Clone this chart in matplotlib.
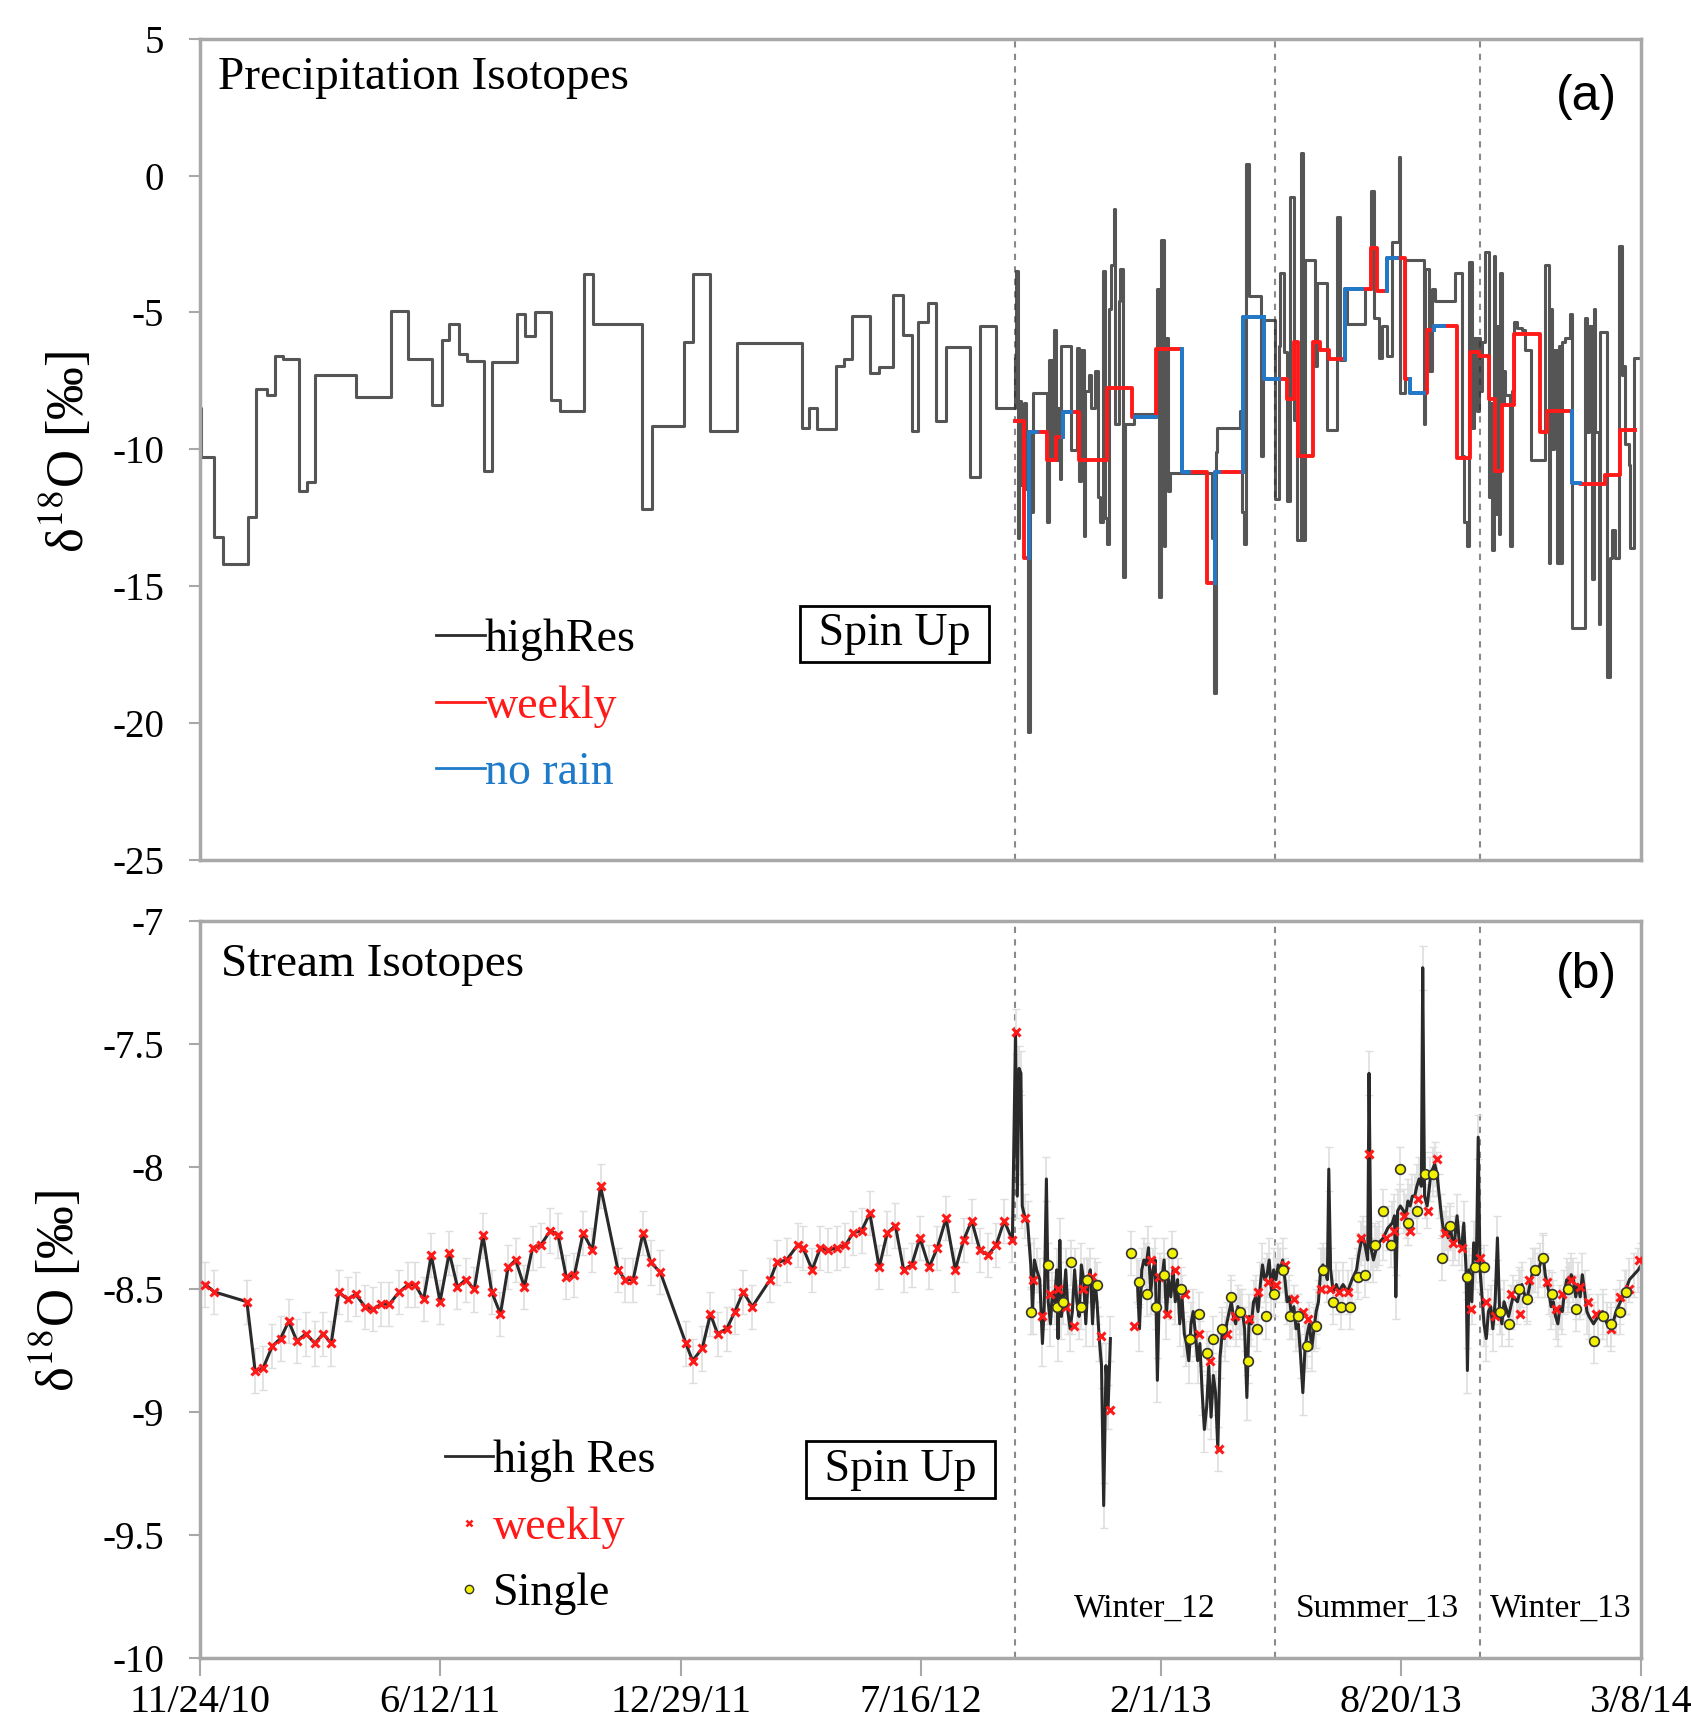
import matplotlib
matplotlib.use("Agg")
import matplotlib.pyplot as plt
from matplotlib.lines import Line2D
from matplotlib.ticker import FormatStrFormatter

plt.rcParams['font.family'] = ['Liberation Serif', 'DejaVu Serif']
plt.rcParams['mathtext.fontset'] = 'stix'
plt.rcParams['axes.unicode_minus'] = False

# x axis is days since 11/24/10
tick_days = [0, 200, 400, 600, 800, 1000, 1200]
tick_labels = ['11/24/10', '6/12/11', '12/29/11', '7/16/12', '2/1/13', '8/20/13', '3/8/14']
period_days = [678.5, 894.6, 1065.9, 1200]
season_names = ['Winter_12', 'Summer_13', 'Winter_13']

# (a) precipitation, high resolution (step starts)
precip_hr_days = [0, 0.8, 11.7, 19.4, 39.7, 46.5, 55.5, 62.3, 69.1, 82.6, 89.4, 96.1, 130.0,
                  159.3, 172.9, 193.2, 201.3, 207.6, 215.8, 222.5, 236.1, 242.8, 264.0, 270.8,
                  279.0, 292.5, 299.3, 319.6, 327.2, 368.3, 376.0, 403.1, 410.7, 424.3, 446.9,
                  501.5, 506.9, 513.6, 529.4, 536.2, 543.0, 557.9, 565.6, 576.8, 585.0, 592.6,
                  598.0, 606.2, 612.9, 621.1, 641.4, 649.1, 662.6,
                  678.2, 679.2, 680.9, 682.0, 683.7, 685.6, 687.6, 689.3, 690.9, 692.0, 693.1,
                  705.1, 707.0, 709.2, 711.2, 712.6, 714.2, 715.6, 717.0, 725.3, 730.1, 732.0,
                  733.7, 735.6, 737.0, 739.8, 742.0, 745.3, 747.6, 749.5, 751.5, 753.1, 755.1,
                  757.0, 758.7, 760.6, 762.0, 764.8, 766.2, 768.1, 769.8, 777.3, 796.7, 798.1,
                  800.4, 802.3, 803.7, 805.6, 807.9, 842.6, 844.0, 845.4, 846.8,
                  866.1, 867.5, 868.9, 870.8, 873.0, 883.6, 884.7, 895.2, 898.0, 899.4, 902.2,
                  904.9, 907.7, 910.5, 913.3, 916.9, 918.0, 920.2, 928.5, 929.9, 938.2, 946.6,
                  949.4, 953.0, 954.9, 970.2, 974.9, 977.1, 981.3, 984.1, 988.3, 992.4, 998.0,
                  999.4, 1003.5, 1018.8, 1020.2, 1023.0, 1025.8, 1028.5,
                  1045.1, 1050.7, 1052.1, 1054.8, 1056.2, 1059.0, 1060.5, 1063.2, 1064.5,
                  1065.9, 1067.5, 1070.1, 1072.9, 1074.2, 1075.6, 1077.0, 1078.4, 1079.8,
                  1081.2, 1082.6, 1084.0, 1085.3, 1086.7, 1090.9, 1092.2, 1093.6, 1096.4,
                  1100.6, 1103.4, 1108.4, 1120.0, 1122.8, 1124.2, 1125.6, 1127.0, 1129.7,
                  1131.0, 1132.5, 1134.0, 1136.7, 1140.8, 1142.2, 1153.3, 1154.7, 1156.1,
                  1158.9, 1160.2, 1161.6, 1164.4, 1165.8, 1171.4, 1174.0, 1175.5, 1178.3,
                  1181.1, 1183.9, 1185.0, 1186.6, 1189.4, 1190.8, 1193.6]
precip_hr_vals = [-8.5, -10.27, -13.2, -14.2, -12.45, -7.8, -8.0, -6.57, -6.7, -11.5, -11.2, -7.3, -8.1,
                  -4.94, -6.7, -8.37, -6.0, -5.43, -6.5, -6.76, -10.8, -6.8, -5.04, -5.86,
                  -5.0, -8.18, -8.6, -3.6, -5.43, -12.16, -9.16, -6.08, -3.6, -9.31, -6.12,
                  -9.2, -8.5, -9.25, -6.96, -6.7, -5.14, -7.2, -7.0, -4.35, -5.82, -9.31,
                  -5.33, -4.65, -8.96, -6.27, -11.0, -5.5, -8.47,
                  -6.67, -3.47, -13.24, -8.24, -11.30, -8.32, -11.45, -20.32, -9.36, -12.27, -7.94,
                  -12.64, -6.75, -10.40, -5.63, -10.40, -8.47, -11.07, -6.23, -10.03, -6.30, -11.15,
                  -6.38, -13.16, -7.87, -7.27, -8.47, -7.12, -11.75, -12.64, -3.47, -12.49, -13.46,
                  -4.89, -3.25, -1.23, -9.06, -4.59, -3.40, -14.65, -9.06, -8.69, -4.14, -15.40,
                  -2.35, -13.53, -5.93, -11.52, -10.85, -13.24, -18.90, -10.10, -9.21,
                  -8.61, -12.27, -13.46, 0.41, -4.41, -10.25, -5.26, -11.82, -6.23, -3.54, -6.45,
                  -11.90, -0.79, -8.91, -13.31, 0.81, -13.31, -3.10, -6.97, -3.92, -9.28, -1.53,
                  -6.75, -4.14, -5.41, -4.14, -0.56, -5.19, -6.67, -5.49, -6.60, -2.43, 0.66,
                  -7.94, -3.10, -9.06, -3.40, -7.12, -4.14, -4.59,
                  -3.54, -10.25, -12.64, -13.53, -3.17, -9.21, -5.93, -8.61, -5.93,
                  -7.87, -6.08, -2.80, -11.75, -8.32, -13.68, -2.95, -12.34, -5.48,
                  -13.09, -3.54, -8.32, -7.12, -8.02, -13.53, -7.87, -5.33, -5.56,
                  -5.63, -6.38, -10.40, -3.25, -14.13, -4.89, -10.00, -6.38, -14.13,
                  -6.23, -14.13, -6.08, -5.93, -5.04, -16.52, -5.19, -9.36, -5.48,
                  -14.73, -4.89, -9.36, -16.37, -5.71, -18.30, -13.98, -12.94, -13.98,
                  -2.57, -7.27, -6.97, -9.81, -10.55, -13.61, -6.67]

# (a) weekly composite, steps flagged as no rain are blue
precip_wk_days = [678.5, 686.3, 690.0, 697.0, 704.9, 712.3, 718.6, 725.0, 731.7, 754.7, 775.5,
                  778.0, 795.6, 817.2, 823.0, 838.4, 845.1, 848.0, 868.5, 885.5, 898.0, 904.9,
                  910.8, 914.1, 926.3, 932.7, 939.6, 953.0, 967.0, 974.9, 979.9, 988.3, 996.6,
                  1003.5, 1007.7, 1018.8, 1021.6, 1027.1, 1036.0, 1046.5, 1057.6, 1064.6,
                  1072.9, 1078.4, 1084.0, 1093.6, 1115.9, 1121.4, 1142.2, 1149.1, 1170.0, 1182.5]
precip_wk_vals = [-8.97, -13.96, -9.36, -9.36, -10.40, -9.56, -8.62, -8.62, -10.40, -7.76, -8.82,
                  -8.82, -6.33, -10.83, -10.83, -14.89, -10.83, -10.83, -5.16, -7.42, -7.42, -8.17,
                  -6.08, -10.25, -6.08, -6.38, -6.68, -4.14, -4.14, -2.65, -4.22, -3.02, -3.02,
                  -7.42, -7.94, -7.94, -5.63, -5.48, -5.48, -10.33, -6.45, -6.60,
                  -8.17, -10.78, -8.39, -5.78, -9.36, -8.58, -11.22, -11.27, -10.93, -9.28]
precip_norain = [0, 0, 1, 0, 0, 0, 1, 0, 0, 0, 0,
                 1, 0, 1, 0, 0, 1, 0, 1, 1, 0, 0,
                 0, 0, 0, 0, 0, 1, 0, 0, 0, 1, 0,
                 0, 1, 0, 0, 1, 0, 0, 0, 0,
                 0, 0, 0, 0, 0, 0, 1, 0, 0, 0]
precip_wk_end = 1195.0

# (b) stream, weekly samples during spin up
stream_wk_spin_days = [4.5, 11.8, 39.0, 45.8, 52.5, 60.2, 67.0, 73.8, 80.6, 88.3, 95.6, 102.4,
                       109.2, 115.5, 122.8, 129.6, 137.3, 144.1, 150.8, 157.6, 165.8, 173.5,
                       178.9, 186.2, 192.5, 199.8, 207.5, 214.3, 221.1, 228.3, 235.6, 242.8,
                       250.1, 256.4, 262.7, 270.0, 276.8, 283.6, 291.7, 298.1, 304.9, 311.7,
                       318.9, 326.6, 333.4, 347.9, 353.8, 360.6, 368.7, 375.1, 383.2, 404.5,
                       410.0, 418.1, 424.9, 430.8, 438.5, 445.3, 452.1, 459.8, 474.7, 480.2,
                       488.3, 497.4, 501.9, 509.6, 516.4, 523.2, 530.0, 537.3, 543.6, 550.8,
                       557.6, 565.4, 572.1, 578.9, 585.7, 592.5, 599.3, 607.0, 613.8, 621.1,
                       628.8, 635.6, 642.4, 649.2, 655.9, 662.7, 669.5, 676.3]
stream_wk_spin_vals = [-8.48, -8.51, -8.55, -8.83, -8.82, -8.73, -8.70, -8.63, -8.71, -8.68, -8.72, -8.68,
                       -8.72, -8.51, -8.54, -8.52, -8.57, -8.58, -8.56, -8.56, -8.51, -8.48,
                       -8.48, -8.54, -8.36, -8.55, -8.35, -8.49, -8.46, -8.50, -8.28, -8.51,
                       -8.60, -8.41, -8.38, -8.49, -8.33, -8.32, -8.26, -8.28, -8.45, -8.44,
                       -8.27, -8.34, -8.08, -8.42, -8.46, -8.46, -8.27, -8.39, -8.43, -8.72,
                       -8.79, -8.74, -8.60, -8.68, -8.66, -8.59, -8.51, -8.57, -8.46, -8.39,
                       -8.38, -8.32, -8.33, -8.42, -8.33, -8.34, -8.33, -8.32, -8.27, -8.26,
                       -8.19, -8.41, -8.27, -8.24, -8.42, -8.40, -8.29, -8.41, -8.33, -8.21,
                       -8.42, -8.30, -8.22, -8.34, -8.36, -8.32, -8.22, -8.30]

# (b) high resolution after spin up (two pieces, gap in record)
stream_hr1_days = [678.9, 680.4, 681.9, 683.4, 684.5, 686.4, 689.0, 691.6, 693.1, 694.6, 696.5,
                   699.1, 701.3, 702.8, 704.6, 706.1, 708.0, 709.5, 711.4, 713.2, 714.3, 715.8,
                   717.0, 718.8, 720.7, 722.5, 724.4, 726.2, 728.1, 730.0, 731.8, 733.7, 735.6,
                   737.4, 739.3, 741.2, 743.0, 744.9, 746.7, 748.6, 750.5, 752.3, 754.2, 756.0, 757.9]
stream_hr1_vals = [-7.45, -8.12, -7.60, -7.62, -8.16, -8.20, -8.23, -8.40, -8.59, -8.38, -8.42,
                   -8.46, -8.72, -8.57, -8.05, -8.55, -8.64, -8.52, -8.55, -8.42, -8.70, -8.30,
                   -8.61, -8.55, -8.42, -8.59, -8.66, -8.59, -8.42, -8.55, -8.61, -8.40, -8.46,
                   -8.64, -8.46, -8.42, -8.64, -8.46, -8.55, -8.70, -8.81, -9.38, -8.81, -8.98, -8.70]
stream_hr2_days = [780.3, 782.1, 784.0, 785.8, 787.7, 789.6, 791.4, 793.3, 795.2, 797.0, 798.9,
                   800.7, 802.6, 804.5, 806.3, 808.2, 810.1, 811.9, 813.8, 815.6, 817.5, 819.4,
                   821.2, 823.1, 825.0, 826.8, 828.7, 830.5, 832.4, 834.3, 836.1, 838.0, 839.8,
                   841.7, 843.6, 845.4, 847.3, 849.2, 851.0, 852.9, 854.7, 858.5, 860.3, 862.2,
                   864.1, 865.9, 867.8, 869.6, 871.5, 873.4, 875.2, 877.1, 879.0, 880.8, 882.7,
                   884.5, 886.4, 888.3, 890.1, 892.0, 893.8, 895.7, 897.6, 899.4, 901.3, 903.2,
                   905.0, 906.9, 908.7, 910.6, 912.5, 914.3, 916.2, 918.1, 919.9, 921.8, 923.6,
                   925.5, 927.4, 929.2, 931.1, 932.9, 934.8, 936.7, 938.5, 939.7, 941.2, 943.4,
                   946.0, 947.9, 951.6, 955.3, 959.0, 962.8, 964.6, 966.5, 968.3, 970.2, 972.1,
                   973.2, 974.7, 976.9, 979.5, 981.4, 985.1, 988.8, 992.5, 994.4, 995.5, 997.0,
                   999.3, 1001.9, 1003.7, 1005.6, 1007.4, 1009.3, 1011.2, 1013.0, 1014.9, 1016.8,
                   1017.9, 1019.4, 1021.6, 1024.2, 1026.1, 1027.9, 1029.8, 1031.7, 1033.5, 1035.4,
                   1037.2, 1039.1, 1041.0, 1042.8, 1044.7, 1046.5, 1048.4, 1050.3, 1052.1, 1054.0,
                   1055.1, 1056.6, 1058.8, 1060.3, 1062.6, 1064.1, 1065.6, 1067.0, 1068.9, 1070.8,
                   1072.6, 1074.5, 1076.3, 1078.2, 1080.1, 1081.9, 1083.8, 1085.6, 1089.4, 1091.2,
                   1093.1, 1096.8, 1098.7, 1100.5, 1104.3, 1108.0, 1109.9, 1113.6, 1115.5, 1118.1,
                   1119.9, 1122.9, 1124.8, 1126.6, 1128.5, 1130.4, 1132.2, 1134.1, 1135.9, 1137.8,
                   1139.7, 1141.5, 1143.4, 1145.3, 1147.1, 1149.0, 1150.8, 1152.7, 1154.6, 1156.4,
                   1160.1, 1163.9, 1167.6, 1171.3, 1175.0, 1178.8, 1182.5, 1186.2, 1190.0, 1193.7,
                   1197.4, 1200.0]
stream_hr2_vals = [-8.46, -8.66, -8.42, -8.38, -8.40, -8.33, -8.51, -8.42, -8.38, -8.87, -8.44,
                   -8.46, -8.38, -8.61, -8.46, -8.53, -8.42, -8.55, -8.46, -8.64, -8.53, -8.68,
                   -8.72, -8.79, -8.64, -8.59, -8.68, -8.79, -8.72, -8.92, -9.07, -8.98, -8.81,
                   -9.02, -8.85, -8.92, -9.15, -8.77, -8.68, -8.70, -8.64, -8.55, -8.61, -8.64,
                   -8.57, -8.61, -8.59, -8.66, -8.94, -8.61, -8.64, -8.55, -8.53, -8.59, -8.48,
                   -8.40, -8.46, -8.44, -8.38, -8.51, -8.42, -8.46, -8.40, -8.42, -8.38, -8.46,
                   -8.55, -8.53, -8.61, -8.57, -8.66, -8.64, -8.77, -8.92, -8.74, -8.68, -8.64,
                   -8.74, -8.66, -8.59, -8.55, -8.42, -8.40, -8.42, -8.46, -8.01, -8.42, -8.51,
                   -8.48, -8.51, -8.48, -8.51, -8.46, -8.42, -8.36, -8.31, -8.29, -8.33, -8.38,
                   -7.62, -8.33, -8.38, -8.33, -8.31, -8.29, -8.25, -8.23, -8.20, -8.53, -8.18,
                   -8.16, -8.18, -8.20, -8.14, -8.16, -8.12, -8.12, -8.08, -8.05, -8.08,
                   -7.19, -8.12, -8.16, -8.05, -8.01, -7.99, -8.03, -8.12, -8.20, -8.27,
                   -8.25, -8.29, -8.25, -8.31, -8.29, -8.20, -8.31, -8.33, -8.23, -8.42,
                   -8.83, -8.42, -8.55, -8.31, -8.38, -7.88, -8.42, -8.51, -8.64, -8.70,
                   -8.59, -8.57, -8.66, -8.55, -8.29, -8.59, -8.64, -8.55, -8.61, -8.57,
                   -8.53, -8.55, -8.51, -8.48, -8.55, -8.46, -8.42, -8.44, -8.40, -8.36,
                   -8.44, -8.51, -8.57, -8.55, -8.61, -8.64, -8.57, -8.59, -8.51, -8.46,
                   -8.48, -8.44, -8.46, -8.53, -8.48, -8.53, -8.44, -8.51, -8.59, -8.61,
                   -8.64, -8.61, -8.59, -8.64, -8.66, -8.59, -8.55, -8.51, -8.46, -8.44,
                   -8.42, -8.40]

# (b) weekly samples after spin up
stream_wk_days = [678.9, 686.4, 693.5, 701.3, 707.6, 714.0, 720.7, 727.4, 734.8, 742.3, 749.7,
                  757.2, 777.3, 791.4, 798.1, 805.2, 811.9, 819.7, 831.3, 840.6, 848.0, 854.7,
                  861.4, 873.4, 880.8, 889.0, 895.7, 903.2, 910.6, 918.1, 922.5, 933.0, 940.4,
                  947.9, 955.3, 966.5, 973.2, 987.0, 994.4, 1001.9, 1007.4, 1014.2, 1022.3,
                  1029.8, 1036.5, 1042.8, 1050.3, 1057.7, 1065.2, 1070.8, 1078.2, 1091.2,
                  1098.7, 1106.1, 1121.0, 1128.5, 1134.1, 1141.5, 1149.0, 1155.7, 1162.0,
                  1175.0, 1182.5, 1190.0, 1198.2]
stream_wk_vals = [-7.45, -8.21, -8.46, -8.61, -8.52, -8.50, -8.57, -8.65, -8.50, -8.45, -8.69,
                  -8.99, -8.65, -8.38, -8.45, -8.60, -8.42, -8.52, -8.68, -8.79, -9.15, -8.68,
                  -8.61, -8.62, -8.51, -8.47, -8.48, -8.40, -8.54, -8.59, -8.62, -8.50, -8.50,
                  -8.51, -8.51, -8.29, -7.95, -8.29, -8.26, -8.20, -8.26, -8.13, -8.18,
                  -7.97, -8.27, -8.31, -8.33, -8.58, -8.37, -8.55, -8.61, -8.52,
                  -8.60, -8.46, -8.47, -8.58, -8.52, -8.46, -8.49, -8.55, -8.60,
                  -8.66, -8.53, -8.50, -8.38]

# (b) single grab samples
stream_single_days = [691.6, 705.8, 713.2, 718.8, 725.1, 733.0, 738.5, 746.7, 774.7, 782.1, 788.5,
                      795.9, 802.6, 808.9, 816.8, 824.2, 831.7, 838.0, 843.6, 851.0, 858.5, 865.9,
                      872.6, 879.7, 887.5, 893.8, 901.3, 907.6, 914.3, 921.8, 929.2, 934.8, 943.4,
                      949.7, 957.2, 963.9, 970.2, 978.4, 985.1, 991.8, 999.3, 1005.6, 1013.0,
                      1019.4, 1026.8, 1034.3, 1041.0, 1055.1, 1061.4, 1068.9, 1081.9, 1090.1,
                      1098.0, 1104.3, 1111.0, 1118.4, 1125.9, 1138.5, 1145.3, 1160.1, 1167.6,
                      1175.0, 1182.5, 1186.9]
stream_single_vals = [-8.59, -8.40, -8.57, -8.55, -8.39, -8.57, -8.46, -8.48, -8.35, -8.47, -8.52,
                      -8.57, -8.44, -8.35, -8.50, -8.70, -8.60, -8.76, -8.70, -8.66, -8.53, -8.59,
                      -8.79, -8.66, -8.61, -8.52, -8.42, -8.61, -8.61, -8.73, -8.65, -8.42, -8.55,
                      -8.57, -8.57, -8.45, -8.44, -8.32, -8.18, -8.32, -8.01, -8.23, -8.18,
                      -8.03, -8.03, -8.37, -8.24, -8.45, -8.41, -8.41, -8.59, -8.64,
                      -8.50, -8.54, -8.42, -8.37, -8.52, -8.50, -8.58, -8.71, -8.61,
                      -8.64, -8.59, -8.51]
stream_err = 0.09

RED = '#ff1a1a'
BLUE = '#1f7bc9'
SPINE = '#a8a8a8'
DARK = '#2a2a2a'
YLABEL = 'δ$^{18}$O [‰]'

fig = plt.figure(figsize=(16.91, 17.30), dpi=100)
ax1 = fig.add_axes([0.1183, 0.5027, 0.8524, 0.4750])
ax2 = fig.add_axes([0.1183, 0.0417, 0.8524, 0.4259])

# ---------------- panel (a)
ax1.step(precip_hr_days + [1200], precip_hr_vals + [precip_hr_vals[-1]], where='post',
         color=DARK, lw=2.2, alpha=0.8, zorder=2)
wk_x = precip_wk_days + [precip_wk_end]
wk_y = precip_wk_vals + [precip_wk_vals[-1]]
ax1.step(wk_x, wk_y, where='post', color=RED, lw=2.8, zorder=3)
for i, flag in enumerate(precip_norain):
    if flag:
        ax1.plot([wk_x[i], wk_x[i], wk_x[i + 1]], [wk_y[i - 1], wk_y[i], wk_y[i]],
                 color=BLUE, lw=2.8, zorder=4)

ax1.set_ylim(-25, 5)
ax1.set_yticks(range(-25, 6, 5))
ax1.text(0.0125, 0.978, 'Precipitation Isotopes', transform=ax1.transAxes,
         fontsize=34, va='top', ha='left')
ax1.text(0.9827, 0.929, '(a)', transform=ax1.transAxes, fontsize=36,
         family='Liberation Sans', va='center', ha='right')
ax1.text(0.482, 0.2754, ' Spin Up ', transform=ax1.transAxes, fontsize=33, ha='center',
         va='center', bbox=dict(boxstyle='square,pad=0.15', fc='white', ec='black', lw=2))
h_a = [Line2D([], [], color=DARK, lw=2), Line2D([], [], color=RED, lw=2),
       Line2D([], [], color=BLUE, lw=2)]
ax1.legend(h_a, ['highRes', 'weekly', 'no rain'], loc='upper left', bbox_to_anchor=(0.164, 0.294),
           frameon=False, fontsize=33, handlelength=1.05, handletextpad=0.0, labelspacing=0.52,
           borderpad=0, borderaxespad=0, labelcolor=['black', RED, BLUE])

# ---------------- panel (b)
ax2.errorbar(stream_wk_spin_days + stream_hr1_days + stream_hr2_days + stream_single_days,
             stream_wk_spin_vals + stream_hr1_vals + stream_hr2_vals + stream_single_vals,
             yerr=stream_err, fmt='none', ecolor='#dedede', elinewidth=1.2, capsize=3, zorder=1)
ax2.plot(stream_wk_spin_days + stream_hr1_days, stream_wk_spin_vals + stream_hr1_vals,
         color=DARK, lw=2.2, zorder=2)
ax2.plot(stream_hr2_days, stream_hr2_vals, color=DARK, lw=2.2, zorder=2)
ax2.plot(stream_wk_spin_days + stream_wk_days, stream_wk_spin_vals + stream_wk_vals, 'x',
         color=RED, ms=6, mew=2.2, zorder=3)
ax2.plot(stream_single_days, stream_single_vals, 'o', color='#f2f200', mec='#333333',
         ms=7, mew=1.2, zorder=4)

ax2.set_ylim(-10, -7)
ax2.set_yticks([-10, -9.5, -9, -8.5, -8, -7.5, -7])
ax2.yaxis.set_major_formatter(FormatStrFormatter('%g'))
ax2.set_xticks(tick_days)
ax2.set_xticklabels(tick_labels)
ax2.text(0.0146, 0.97, 'Stream Isotopes', transform=ax2.transAxes,
         fontsize=34, va='top', ha='left')
ax2.text(0.9827, 0.9267, '(b)', transform=ax2.transAxes, fontsize=36,
         family='Liberation Sans', va='center', ha='right')
ax2.text(0.4858, 0.2556, ' Spin Up ', transform=ax2.transAxes, fontsize=33, ha='center',
         va='center', bbox=dict(boxstyle='square,pad=0.15', fc='white', ec='black', lw=2))
for i, name in enumerate(season_names):
    ax2.text((period_days[i] + period_days[i + 1]) / 2, -9.80, name, fontsize=24,
             ha='center', va='center')
h_b = [Line2D([], [], color=DARK, lw=2),
       Line2D([], [], ls='none', marker='x', color=RED, ms=5, mew=1.8),
       Line2D([], [], ls='none', marker='o', color='#f2f200', mec='#333333', ms=6)]
ax2.legend(h_b, ['high Res', 'weekly', 'Single'], loc='upper left', bbox_to_anchor=(0.170, 0.296),
           frameon=False, fontsize=33, handlelength=1.05, handletextpad=0.0, labelspacing=0.52,
           borderpad=0, borderaxespad=0, labelcolor=['black', RED, 'black'])

for ax in (ax1, ax2):
    ax.set_xlim(0, 1200)
    for d in period_days[:3]:
        ax.axvline(d, color='#8a8a8a', ls=(0, (3, 3)), lw=1.5, zorder=0)
    for s in ax.spines.values():
        s.set_color(SPINE)
        s.set_linewidth(2.5)
    ax.tick_params(axis='y', direction='out', length=8, width=1.5, color=SPINE,
                   labelsize=28, pad=18)
    ax.set_ylabel(YLABEL, fontsize=38)

ax1.set_xticks([])
ax2.tick_params(axis='x', direction='out', length=13, width=1.5, color=SPINE,
                labelsize=29, pad=6)
ax1.yaxis.set_label_coords(-0.073, 0.497)
ax2.yaxis.set_label_coords(-0.080, 0.4985)

plt.savefig('out.png', dpi=100)
